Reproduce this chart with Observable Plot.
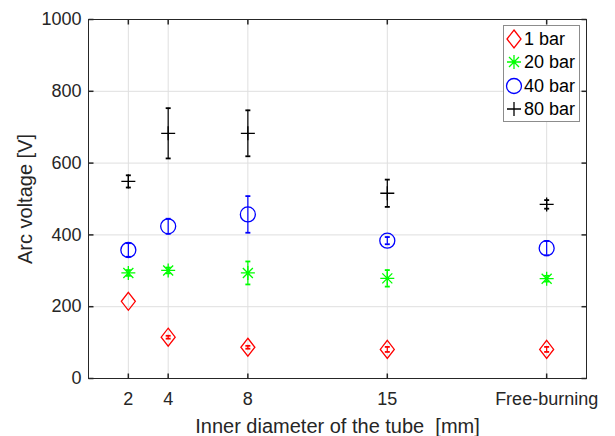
<!DOCTYPE html>
<html><head><meta charset="utf-8">
<script src="https://cdn.jsdelivr.net/npm/d3@7"></script>
<script src="https://cdn.jsdelivr.net/npm/@observablehq/plot@0.6"></script>
<style>
body{margin:0;background:#fff;}
svg text{white-space:pre;}
g[aria-label="x-axis label"] text, g[aria-label="y-axis label"] text{font-size:20px;}
</style></head><body><div id="chart"></div>
<script>
// x positions (Free-burning placed at 23 on the axis) and tick labels
const diameters = [2, 4, 8, 15, 23];
const tickLabels = ["2", "4", "8", "15", "Free-burning"];
const yTicks = [0, 200, 400, 600, 800, 1000];

const seriesNames = ["1 bar", "20 bar", "40 bar", "80 bar"];
const seriesColors = ["#FF0000", "#00FF00", "#0000FF", "#000000"];

// mean arc voltage [V] and error half-widths [V]
const v1  = [215, 115, 87, 81, 81];
const e1  = [0, 4, 4, 7, 7];
const v20 = [294, 301, 294, 279, 278];
const e20 = [8, 8, 32, 23, 8];
const v40 = [358, 424, 457, 384, 363];
const e40 = [19, 21, 51, 10, 20];
const v80 = [549, 683, 683, 516, 485];
const e80 = [17, 70, 64, 38, 12];

const values = [v1, v20, v40, v80];
const errors = [e1, e20, e40, e80];

const rows = [];
seriesNames.forEach((s, i) => diameters.forEach((d, j) => rows.push({
  series: s, x: d, y: values[i][j], lo: values[i][j] - errors[i][j], hi: values[i][j] + errors[i][j], err: errors[i][j]
})));

const sym = fn => ({draw(ctx) { fn(ctx); }});
const symbols = {
  "1 bar": sym(c => { c.moveTo(0, -9); c.lineTo(7, 0); c.lineTo(0, 9); c.lineTo(-7, 0); c.closePath(); }),
  "20 bar": sym(c => { c.moveTo(-7, 0); c.lineTo(7, 0); c.moveTo(0, -7); c.lineTo(0, 7);
                      c.moveTo(-5, -5); c.lineTo(5, 5); c.moveTo(-5, 5); c.lineTo(5, -5); }),
  "40 bar": sym(c => { c.moveTo(7.5, 0); c.arc(0, 0, 7.5, 0, 2 * Math.PI); }),
  "80 bar": sym(c => { c.moveTo(-7, 0); c.lineTo(7, 0); c.moveTo(0, -7); c.lineTo(0, 7); })
};
const cap = sym(c => { c.moveTo(-2.5, 0); c.lineTo(2.5, 0); });
const tickUp = sym(c => { c.moveTo(0, 0); c.lineTo(0, -5); });
const tickDown = sym(c => { c.moveTo(0, 0); c.lineTo(0, 5); });
const tickRight = sym(c => { c.moveTo(0, 0); c.lineTo(5, 0); });
const tickLeft = sym(c => { c.moveTo(0, 0); c.lineTo(-5, 0); });

const ink = "#262626";

const marks = [
  Plot.gridX(diameters, {stroke: "#DFDFDF", strokeOpacity: 1}),
  Plot.gridY(yTicks.slice(1, -1), {stroke: "#DFDFDF", strokeOpacity: 1}),
];
seriesNames.forEach((s, i) => {
  const data = rows.filter(r => r.series === s && r.err > 0);
  marks.push(Plot.ruleX(data, {x: "x", y1: "lo", y2: "hi", stroke: seriesColors[i], strokeWidth: 1.2}));
  marks.push(Plot.dot(data, {x: "x", y: "lo", symbol: cap, stroke: seriesColors[i], strokeWidth: 1.8, fill: "none"}));
  marks.push(Plot.dot(data, {x: "x", y: "hi", symbol: cap, stroke: seriesColors[i], strokeWidth: 1.8, fill: "none"}));
});
seriesNames.forEach((s, i) => {
  const data = rows.filter(r => r.series === s);
  marks.push(Plot.dot(data, {x: "x", y: "y", symbol: symbols[s], stroke: seriesColors[i], strokeWidth: 1.3, fill: "none"}));
});
marks.push(
  Plot.dot(diameters, {x: d => d, y: () => 0, symbol: tickUp, stroke: ink, fill: "none"}),
  Plot.dot(diameters, {x: d => d, y: () => 1000, symbol: tickDown, stroke: ink, fill: "none"}),
  Plot.dot(yTicks, {x: () => 0, y: d => d, symbol: tickRight, stroke: ink, fill: "none"}),
  Plot.dot(yTicks, {x: () => 25, y: d => d, symbol: tickLeft, stroke: ink, fill: "none"}),
  Plot.frame({stroke: ink}),
  Plot.axisX(diameters, {tickFormat: d => tickLabels[diameters.indexOf(d)], tickSize: 0, tickPadding: 14,
    label: "Inner diameter of the tube  [mm]", labelAnchor: "center", labelArrow: "none", labelOffset: 54}),
  Plot.axisY(yTicks, {tickFormat: d => String(d), tickSize: 0, tickPadding: 7, label: "Arc voltage [V]",
    labelAnchor: "center", labelArrow: "none", labelOffset: 71})
);

const chart = Plot.plot({
  width: 615, height: 436,
  marginLeft: 88, marginRight: 29, marginTop: 19, marginBottom: 58,
  x: {domain: [0, 25]},
  y: {domain: [0, 1000]},
  style: {fontFamily: "'Liberation Sans', Arial, sans-serif", fontSize: "18px", color: ink, background: "white"},
  marks
});
document.getElementById("chart").appendChild(chart);

// legend box (inside the axes, upper right)
const svg = d3.select(chart);
const lg = svg.append("g").attr("font-family", "'Liberation Sans', Arial, sans-serif")
  .attr("font-size", "18px").attr("text-anchor", "start");
lg.append("rect").attr("x", 503.5).attr("y", 25.5).attr("width", 76).attr("height", 96)
  .attr("fill", "white").attr("stroke", "#8C8C8C");
const rowY = [39, 62, 86, 109];
seriesNames.forEach((s, i) => {
  const p = d3.path(); symbols[s].draw(p);
  lg.append("path").attr("d", p.toString()).attr("transform", `translate(514,${rowY[i]})`)
    .attr("fill", "none").attr("stroke", seriesColors[i]).attr("stroke-width", 1.3);
  lg.append("text").attr("x", 524).attr("y", rowY[i]).attr("dy", "0.35em").attr("fill", "#000").text(s);
});
</script></body></html>
